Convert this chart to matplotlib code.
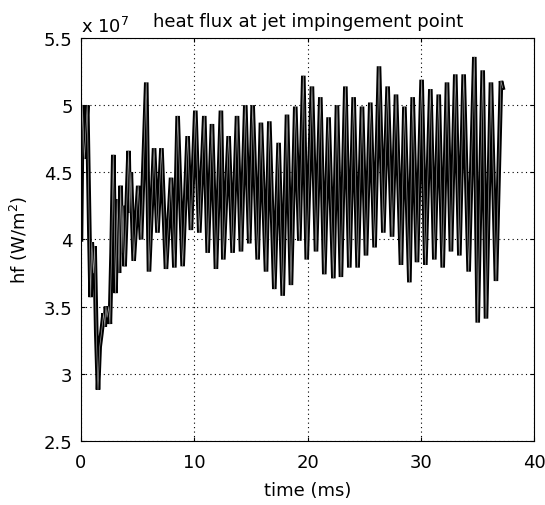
import numpy as np
import matplotlib
matplotlib.use('Agg')
import matplotlib.pyplot as plt

# time (ms) of each turning point of the trace
t_ms = [0.0, 0.12, 0.3, 0.55, 0.75, 0.85, 0.95, 1.1, 1.2, 1.35, 1.5, 1.58, 1.65, 1.8, 2.0,
        2.1, 2.2, 2.3, 2.45, 2.55, 2.7, 2.85, 2.95, 3.05, 3.2, 3.35, 3.5, 3.6, 3.7, 3.85,
        4.2, 4.3, 4.4, 4.65, 5.05, 5.3, 5.76, 6.0, 6.45, 6.75, 7.1, 7.5, 7.95, 8.24,
        8.53, 8.97, 9.41, 9.7, 10.09, 10.44, 10.88, 11.18, 11.56, 11.91, 12.35, 12.56,
        13.03, 13.38, 13.77, 14.12, 14.5, 14.85, 15.15, 15.59, 15.88, 16.33, 16.62, 17.06,
        17.44, 17.8, 18.18, 18.53, 18.91, 19.27, 19.62, 19.92, 20.38, 20.74, 21.12, 21.47,
        21.85, 22.27, 22.59, 22.94, 23.33, 23.68, 24.06, 24.41, 24.8, 25.15, 25.53, 25.91,
        26.3, 26.68, 27.06, 27.45, 27.8, 28.24, 28.54, 28.98, 29.27, 29.65, 30.06, 30.39,
        30.83, 31.18, 31.57, 31.92, 32.3, 32.65, 33.03, 33.39, 33.77, 34.21, 34.71, 35.01,
        35.45, 35.74, 36.18, 36.62, 37.06, 37.21]

# heat flux at those points, in units of 1e7 W/m^2
hf_e7 = [4.0, 5.0, 4.6, 5.0, 4.0, 3.57, 3.98, 3.75, 3.95, 3.3, 2.88, 3.05, 3.2, 3.3, 3.45,
         3.35, 3.5, 3.42, 3.5, 3.37, 3.9, 4.63, 4.1, 3.6, 4.3, 3.75, 4.4, 3.9, 4.25, 3.8,
         4.66, 4.2, 4.5, 3.84, 4.4, 4.0, 5.17, 3.76, 4.68, 4.05, 4.68, 3.78, 4.46, 3.79,
         4.92, 3.8, 4.77, 4.07, 4.96, 4.05, 4.92, 3.9, 4.86, 3.78, 4.96, 3.85,
         4.77, 3.9, 4.92, 3.91, 5.0, 3.97, 5.0, 3.85, 4.87, 3.76, 4.88, 3.63,
         4.72, 3.58, 4.93, 3.66, 4.99, 3.99, 5.22, 3.85, 5.14, 3.91, 5.06, 3.74,
         4.91, 3.71, 5.0, 3.72, 5.14, 3.79, 5.06, 3.79, 4.99, 3.88, 5.02, 3.94,
         5.29, 4.05, 5.14, 4.02, 5.08, 3.81, 4.99, 3.68, 5.06, 3.83, 5.19, 3.81,
         5.12, 3.85, 5.08, 3.79, 5.17, 3.91, 5.23, 3.88, 5.23, 3.76, 5.36, 3.38,
         5.26, 3.41, 5.17, 3.69, 5.18, 5.13]

plt.rcParams['font.family'] = ['DejaVu Sans']
fs = 13

fig = plt.figure(figsize=(5.45, 5.06), dpi=100)
ax = fig.add_axes([0.1486, 0.127, 0.8317, 0.7957])

ax.plot(t_ms, hf_e7, color='black', lw=3.3, solid_joinstyle='miter')
ax.plot(t_ms, hf_e7, color='0.6', lw=0.5)

ax.set_xlim(0, 40)
ax.set_ylim(2.5, 5.5)
ax.set_xticks([0, 10, 20, 30, 40])
ax.set_yticks([2.5, 3, 3.5, 4, 4.5, 5, 5.5])
ax.set_yticklabels(['2.5', '3', '3.5', '4', '4.5', '5', '5.5'])
ax.grid(True, color='black', linestyle=(0, (1, 3)), lw=0.8)
ax.tick_params(direction='in', length=3, top=True, right=True, labelsize=fs, pad=6)
ax.tick_params(axis='x', pad=9)
for s in ax.spines.values():
    s.set_linewidth(0.8)

ax.set_xlabel('time (ms)', fontsize=fs, labelpad=7)
ax.set_ylabel('hf (W/m$^2$)', fontsize=fs, labelpad=10)
ax.set_title('heat flux at jet impingement point', fontsize=fs, pad=9)
ax.text(0.0, 1.006, 'x 10$^7$', transform=ax.transAxes, fontsize=fs, ha='left', va='bottom')

fig.savefig('out.png', dpi=100)
